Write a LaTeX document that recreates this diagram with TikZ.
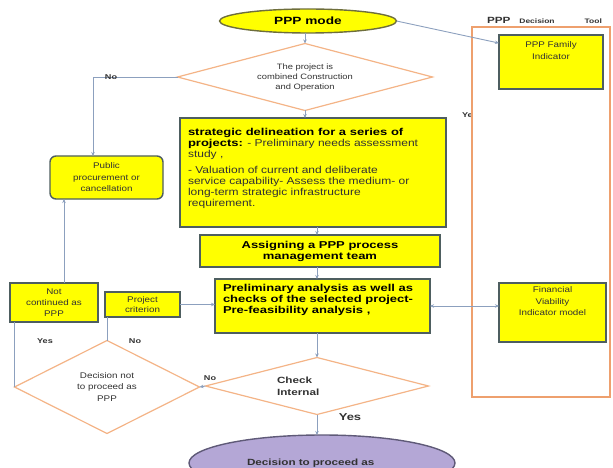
\documentclass[tikz,border=0pt]{standalone}
\usepackage{fontspec}
\setmainfont{Liberation Sans}[FakeStretch=1.2, BoldFeatures={FakeStretch=1.3}]
\usetikzlibrary{shapes.geometric,arrows.meta,calc}
\definecolor{boxedge}{RGB}{78,94,96}
\definecolor{diaedge}{RGB}{244,180,135}
\definecolor{tooledge}{RGB}{238,160,110}
\definecolor{conncol}{RGB}{140,160,190}
\definecolor{pppedge}{RGB}{110,110,60}
\definecolor{purplefill}{RGB}{180,167,214}
\definecolor{purpleedge}{RGB}{95,90,120}
\definecolor{txtgray}{RGB}{50,50,50}
\definecolor{yfill}{RGB}{255,255,0}
\newcommand{\topbox}[3]{\parbox[c][#2][t]{#1}{#3}}
\begin{document}
\begin{tikzpicture}[x=1pt,y=-1pt,
  every node/.style={inner sep=0pt, outer sep=0pt},
  ybox/.style={rectangle, draw=boxedge, fill=yfill, line width=1.4pt},
  dia/.style={diamond, draw=diaedge, fill=white, line width=1.2pt, inner sep=0pt},
  conn/.style={draw=conncol, line width=0.9pt},
  tip/.style={-{Stealth[length=4pt,width=3.5pt]}},
  small/.style={font=\fontsize{8.2}{11.5}\selectfont, text=txtgray, align=center},
  bigb/.style={font=\bfseries\fontsize{10}{11}\selectfont, text=black},
  lbl/.style={font=\bfseries\fontsize{7}{8}\selectfont, text=txtgray}
]
\useasboundingbox (0,0) rectangle (613,468);
\clip (0,0) rectangle (613,468);

% right panel label partly hidden by panel
\node[lbl, anchor=west] (yes3) at (462,115) {Yes};
\node[rectangle, draw=tooledge, fill=white, line width=1.2pt, minimum width=138pt, minimum height=370pt] (tool) at (541,212) {};
\node[anchor=south west, font=\bfseries, text=txtgray] (tooltitle) at (487,24) {{\fontsize{9}{10}\selectfont PPP}\hspace{9pt}{\fontsize{6.5}{8}\selectfont Decision\hspace{30pt}Tool}};

\node[ybox, minimum width=104pt, minimum height=54pt, small] (fam) at (551,62)
  {\topbox{96pt}{46pt}{\centering\vspace*{3pt}PPP Family\\Indicator}};
\node[ybox, minimum width=107pt, minimum height=59pt, small] (fv) at (552.5,312.5)
  {\topbox{96pt}{51pt}{\centering Financial\\Viability\\Indicator model}};

% main flow
\node[ellipse, draw=pppedge, fill=yfill, line width=1.4pt, minimum width=177pt, minimum height=24pt,
  font=\bfseries\fontsize{10.5}{12}\selectfont] (ppp) at (308,21) {PPP mode};
\node[dia, aspect=3.8, minimum width=255pt, minimum height=67pt, small, font=\fontsize{7.8}{10}\selectfont] (d1) at (305,77)
  {The project is\\combined Construction\\and Operation};
\node[ybox, minimum width=266pt, minimum height=109pt, font=\fontsize{10}{11}\selectfont, text=txtgray] (strat) at (313,172.5)
  {\topbox{250pt}{96pt}{\raggedright\vspace*{4pt}
   {\bfseries\color{black}strategic delineation for a series of\\projects:} - Preliminary needs assessment\\study ,\par\vspace{5pt}
   - Valuation of current and deliberate\\service capability- Assess the medium- or\\long-term strategic infrastructure\\requirement.}};
\node[ybox, minimum width=240pt, minimum height=32pt, bigb, align=center] (assign) at (320,251)
  {Assigning a PPP process\\management team};
\node[ybox, minimum width=215pt, minimum height=54pt, bigb] (prelim) at (322.5,306)
  {\topbox{199pt}{44pt}{\raggedright Preliminary analysis as well as\\checks of the selected project-\\Pre-feasibility analysis ,}};

\node[ybox, rounded corners=6pt, minimum width=113pt, minimum height=43pt, small] (pub) at (106.5,177.5)
  {Public\\procurement or\\cancellation};
\node[ybox, minimum width=88pt, minimum height=39pt, small, font=\fontsize{8.2}{11}\selectfont] (notc) at (54,302.5)
  {Not\\continued as\\PPP};
\node[ybox, minimum width=75pt, minimum height=25pt, small, font=\fontsize{8.2}{10}\selectfont] (crit) at (142.5,304.5)
  {Project\\criterion};

\node[dia, aspect=2, minimum width=185pt, minimum height=93pt, small] (d2) at (107,387)
  {Decision not\\to proceed as\\PPP};
\node[dia, aspect=3.9, minimum width=223pt, minimum height=57pt, font=\bfseries\fontsize{9}{12}\selectfont, text=txtgray, text width=80pt, align=left] (d3) at (317,386)
  {Check\\Internal};

\node[ellipse, draw=purpleedge, fill=purplefill, line width=1.4pt, minimum width=266pt, minimum height=56pt,
  font=\bfseries\fontsize{9}{10}\selectfont, text=txtgray, text width=150pt, align=left] (fin) at (322,463) {Decision to proceed as};

% connectors
\draw[conn,tip] (d1.north |- ppp.south) -- (d1.north);
\draw[conn,tip] (ppp.east) -- (fam.160);
\draw[conn,tip] (d1.south) -- (d1.south |- strat.north);
\draw[conn,tip] (strat.south -| d3.north) -- (assign.north -| d3.north);
\draw[conn,tip] (assign.south -| d3.north) -- (prelim.north -| d3.north);
\draw[conn,tip] (prelim.south -| d3.north) -- (d3.north);
\draw[conn,tip] (d3.south) -- (fin.north -| d3.south);
\draw[conn,tip] (d3.west) -- (d2.east);
\coordinate (k1) at (93,77);
\draw[conn,tip] (d1.west) -- (k1) -- (k1 |- pub.north);
\coordinate (k2) at ($(notc.north)+(10,0)$);
\draw[conn,tip] (k2) -- (k2 |- pub.south);
\draw[conn,tip] (crit.east) -- (crit.east -| prelim.west);
\draw[conn] (d2.west) -- (d2.west |- notc.south);
\draw[conn] (d2.north) -- (d2.north |- crit.south);
\draw[conn,{Stealth[length=4pt,width=3.5pt]}-{Stealth[length=4pt,width=3.5pt]}] (prelim.east) -- (prelim.east -| fv.west);

% labels
\node[lbl] (lno1) at (111,77) {No};
\node[lbl] (lyes1) at (45,341) {Yes};
\node[lbl] (lno2) at (135,341) {No};
\node[lbl] (lno3) at (210,378) {No};
\node[font=\bfseries\fontsize{10}{12}\selectfont, text=txtgray] (lyes2) at (350,417) {Yes};
\end{tikzpicture}
\end{document}
